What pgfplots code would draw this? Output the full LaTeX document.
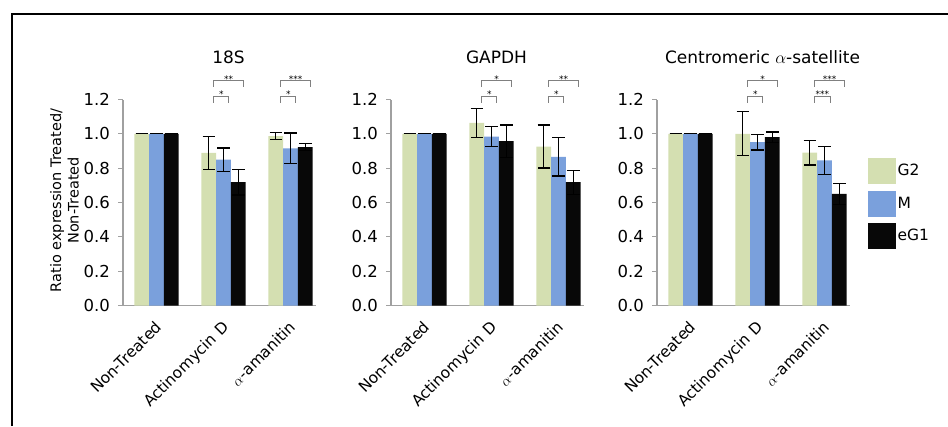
\documentclass[border=0pt]{standalone}
\usepackage{fontspec}
\setmainfont{DejaVu Sans}
\usepackage{pgfplots}
\usepackage{pgfplotstable}
\pgfplotsset{compat=1.18}

\definecolor{cG2}{HTML}{D4DFB1}
\definecolor{cM}{HTML}{7AA0DC}
\definecolor{cE}{HTML}{080808}
\definecolor{axgray}{HTML}{A0A0A0}
\definecolor{brgray}{HTML}{808080}

\pgfplotstableread{
x G2 G2e M Me E Ee
0 1.000 0.000 1.000 0.000 1.000 0.000
1 0.889 0.095 0.850 0.068 0.718 0.074
2 0.986 0.020 0.915 0.090 0.922 0.020
}\dataA
\pgfplotstableread{
x G2 G2e M Me E Ee
0 1.000 0.000 1.000 0.000 1.000 0.000
1 1.064 0.085 0.984 0.060 0.957 0.095
2 0.926 0.125 0.866 0.112 0.718 0.070
}\dataB
\pgfplotstableread{
x G2 G2e M Me E Ee
0 1.000 0.000 1.000 0.000 1.000 0.000
1 1.000 0.128 0.951 0.045 0.981 0.030
2 0.891 0.072 0.845 0.083 0.650 0.060
}\dataC

\tikzset{
  star/.style={font=\fontsize{9}{10}\selectfont, anchor=base, inner sep=0pt, yshift=-1.5pt},
  br/.style={draw=brgray, line width=0.8pt},
}
\pgfplotsset{
  panel/.style={
    width=193pt, height=206pt, scale only axis, anchor=south west,
    ymin=0, ymax=1.2, xmin=-0.5, xmax=2.38,
    clip=false,
    ybar=0pt, bar width=14.7pt,
    axis x line*=bottom, axis y line*=left,
    axis line style={draw=axgray, line width=1.2pt, -},
    ytick={0,0.2,0.4,0.6,0.8,1.0,1.2},
    /pgf/number format/assume math mode=true,
    y tick label style={/pgf/number format/fixed, /pgf/number format/fixed zerofill, /pgf/number format/precision=1,
      font=\fontsize{16.5}{19}\selectfont, anchor=east, inner sep=0pt, xshift=-8pt},
    ytick style={draw=axgray, line width=1.2pt},
    tick align=outside, major tick length=5pt,
    xtick={0,1,2},
    xticklabels={Non-Treated, Actinomycin D, $\alpha$-amanitin},
    xtick style={draw=none},
    x tick label style={font=\fontsize{15.5}{18}\selectfont, rotate=45, anchor=north east, inner sep=0pt, yshift=-5pt, xshift=-8pt},
    title style={font=\fontsize{17}{19}\selectfont, at={(axis description cs:0.5,1)}, anchor=base, yshift=29.5pt, xshift=9pt},
  },
  ebar/.style={error bars/.cd, y dir=both, y explicit,
    error bar style={line width=1.2pt, black},
    error mark options={rotate=90, mark size=6.3pt, line width=1.2pt, black}},
}

\begin{document}
\begin{tikzpicture}
\useasboundingbox (0pt,0pt) rectangle (948pt,426pt);
\draw[line width=1.5pt] (12pt,0pt) -- (12pt,412pt) -- (948pt,412pt);

% ---- Panel 1: 18S
\begin{axis}[panel, at={(123pt,120.5pt)}, title={18S},
  ylabel={Ratio expression Treated/\\Non-Treated},
  ylabel style={font=\fontsize{14.5}{17.5}\selectfont, align=center, at={(axis description cs:-0.303,0.51)}, anchor=center}]
\addplot[fill=cG2, draw=none, ebar] table[x=x, y=G2, y error=G2e] {\dataA};
\addplot[fill=cM, draw=none, ebar] table[x=x, y=M, y error=Me] {\dataA};
\addplot[fill=cE, draw=none, ebar] table[x=x, y=E, y error=Ee] {\dataA};
\draw[br] (axis cs:0.855,1.181) |- (axis cs:1.08,1.22) -- (axis cs:1.08,1.181);
\draw[br] (axis cs:0.855,1.274) |- (axis cs:1.30,1.309) -- (axis cs:1.30,1.274);
\node[star] at (axis cs:0.9675,1.22) {*};
\node[star] at (axis cs:1.0775,1.309) {**};
\draw[br] (axis cs:1.855,1.181) |- (axis cs:2.08,1.22) -- (axis cs:2.08,1.181);
\draw[br] (axis cs:1.855,1.274) |- (axis cs:2.30,1.309) -- (axis cs:2.30,1.274);
\node[star] at (axis cs:1.9675,1.22) {*};
\node[star] at (axis cs:2.0775,1.309) {***};
\end{axis}

% ---- Panel 2: GAPDH
\begin{axis}[panel, at={(391pt,120.5pt)}, title={GAPDH}]
\addplot[fill=cG2, draw=none, ebar] table[x=x, y=G2, y error=G2e] {\dataB};
\addplot[fill=cM, draw=none, ebar] table[x=x, y=M, y error=Me] {\dataB};
\addplot[fill=cE, draw=none, ebar] table[x=x, y=E, y error=Ee] {\dataB};
\draw[br] (axis cs:0.855,1.181) |- (axis cs:1.08,1.22) -- (axis cs:1.08,1.181);
\draw[br] (axis cs:0.855,1.274) |- (axis cs:1.30,1.309) -- (axis cs:1.30,1.274);
\node[star] at (axis cs:0.9675,1.22) {*};
\node[star] at (axis cs:1.0775,1.309) {*};
\draw[br] (axis cs:1.855,1.181) |- (axis cs:2.08,1.22) -- (axis cs:2.08,1.181);
\draw[br] (axis cs:1.855,1.274) |- (axis cs:2.30,1.309) -- (axis cs:2.30,1.274);
\node[star] at (axis cs:1.9675,1.22) {*};
\node[star] at (axis cs:2.0775,1.309) {**};
\end{axis}

% ---- Panel 3: Centromeric alpha-satellite
\begin{axis}[panel, at={(657pt,120.5pt)}, title={Centromeric $\alpha$-satellite},
  legend style={at={(axis description cs:1.093,0.716)}, anchor=north west, draw=none, fill=none,
    inner sep=0pt, row sep=7pt, font=\fontsize{15.5}{18}\selectfont, legend cell align=left}]
\addlegendimage{legend image code/.code={\fill[cG2] (0pt,-12.5pt) rectangle (27pt,12.5pt);}}
\addlegendimage{legend image code/.code={\fill[cM] (0pt,-12.5pt) rectangle (27pt,12.5pt);}}
\addlegendimage{legend image code/.code={\fill[cE] (0pt,-12.5pt) rectangle (27pt,12.5pt);}}
\addplot[fill=cG2, draw=none, ebar] table[x=x, y=G2, y error=G2e] {\dataC};
\addplot[fill=cM, draw=none, ebar] table[x=x, y=M, y error=Me] {\dataC};
\addplot[fill=cE, draw=none, ebar] table[x=x, y=E, y error=Ee] {\dataC};
\legend{G2,M,eG1}
\draw[br] (axis cs:0.855,1.181) |- (axis cs:1.08,1.22) -- (axis cs:1.08,1.181);
\draw[br] (axis cs:0.855,1.274) |- (axis cs:1.30,1.309) -- (axis cs:1.30,1.274);
\node[star] at (axis cs:0.9675,1.22) {*};
\node[star] at (axis cs:1.0775,1.309) {*};
\draw[br] (axis cs:1.855,1.181) |- (axis cs:2.08,1.22) -- (axis cs:2.08,1.181);
\draw[br] (axis cs:1.855,1.274) |- (axis cs:2.30,1.309) -- (axis cs:2.30,1.274);
\node[star] at (axis cs:1.9675,1.22) {***};
\node[star] at (axis cs:2.0775,1.309) {***};
\end{axis}
\end{tikzpicture}
\end{document}
